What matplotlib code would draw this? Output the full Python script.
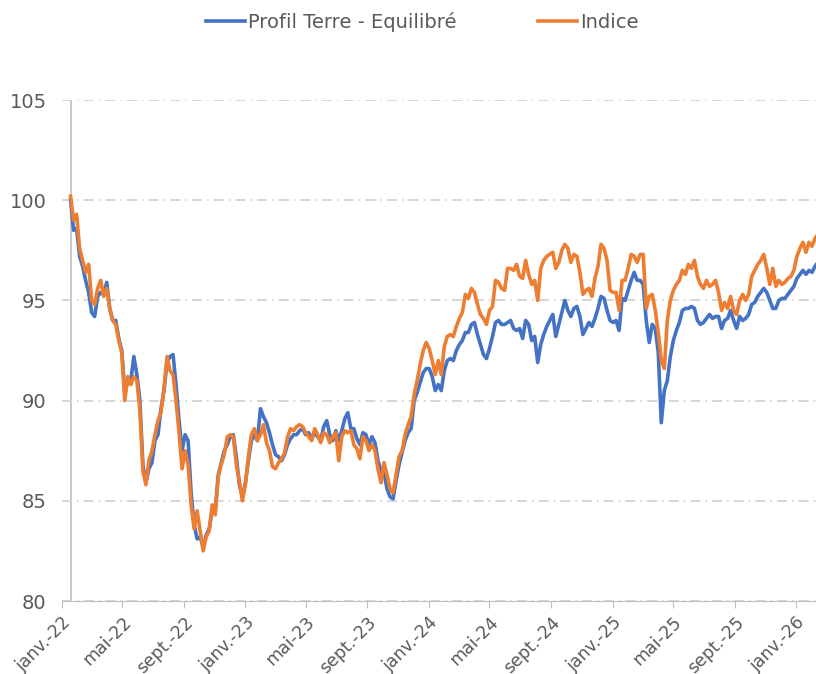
import pandas as pd
from matplotlib import pyplot as plt

# values read every 6 days starting 18/01/2022
profil = [100.0, 98.5, 98.6, 97.2, 96.7, 96.0, 95.4, 94.4, 94.2, 95.2,
          95.4, 95.3, 95.9, 94.6, 94.0, 94.0, 93.1, 92.5, 90.4, 91.0,
          91.0, 92.2, 91.3, 90.0, 86.8, 85.9, 86.6, 86.9, 88.0, 88.3,
          89.6, 90.5, 91.9, 92.2, 92.3, 90.8, 89.0, 87.5, 88.3, 88.0,
          85.4, 83.8, 83.1, 83.2, 82.7, 83.3, 83.6, 84.5, 84.5, 86.3,
          86.9, 87.5, 87.8, 88.2, 88.3, 87.2, 85.8, 85.2, 85.9, 87.0,
          88.0, 88.3, 88.0, 89.6, 89.2, 88.9, 88.4, 87.8, 87.3, 87.2,
          87.0, 87.3, 87.8, 88.1, 88.3, 88.3, 88.5, 88.6, 88.3, 88.4,
          88.1, 88.4, 88.2, 88.0, 88.7, 89.0, 88.3, 88.0, 88.5, 88.0,
          88.5, 89.1, 89.4, 88.6, 88.6, 88.1, 87.8, 88.4, 88.3, 87.8,
          88.2, 87.9, 87.0, 86.5, 86.4, 85.6, 85.2, 85.1, 86.0, 86.8,
          87.4, 88.0, 88.4, 88.6, 90.0, 90.4, 90.9, 91.4, 91.6, 91.6,
          91.2, 90.5, 90.8, 90.5, 91.5, 92.0, 92.1, 92.0, 92.5, 92.8,
          93.0, 93.4, 93.4, 93.8, 93.9, 93.3, 92.8, 92.3, 92.1, 92.6,
          93.2, 93.9, 94.0, 93.8, 93.8, 93.9, 94.0, 93.6, 93.5, 93.6,
          93.1, 94.0, 93.8, 93.0, 93.2, 91.9, 92.8, 93.3, 93.7, 94.0,
          94.3, 93.2, 93.8, 94.4, 95.0, 94.5, 94.2, 94.6, 94.7, 94.2,
          93.3, 93.6, 93.9, 93.7, 94.1, 94.6, 95.2, 95.1, 94.5, 94.0,
          93.9, 94.0, 93.5, 95.1, 95.0, 95.5, 96.0, 96.4, 96.0, 96.0,
          95.8, 94.0, 92.9, 93.8, 93.6, 92.4, 88.9, 90.5, 91.0, 92.2,
          93.0, 93.5, 93.9, 94.5, 94.6, 94.6, 94.7, 94.6, 94.0, 93.8,
          93.9, 94.1, 94.3, 94.1, 94.2, 94.2, 93.6, 94.0, 94.1, 94.5,
          94.0, 93.6, 94.2, 94.0, 94.1, 94.3, 94.8, 94.9, 95.2, 95.4,
          95.6, 95.4, 95.0, 94.6, 94.6, 95.0, 95.1, 95.1, 95.3, 95.5,
          95.7, 96.1, 96.3, 96.5, 96.3, 96.5, 96.4, 96.7, 96.9]

indice = [100.2, 99.0, 99.3, 97.6, 97.0, 96.4, 96.8, 95.0, 94.8, 95.6,
          96.0, 95.2, 95.6, 94.6, 94.0, 93.8, 93.0, 92.4, 90.0, 91.2,
          90.8, 91.2, 91.0, 89.5, 86.5, 85.8, 87.0, 87.5, 88.3, 89.0,
          89.4, 90.6, 92.2, 91.5, 91.3, 90.0, 88.4, 86.6, 87.5, 86.8,
          84.8, 83.6, 84.5, 83.5, 82.5, 83.2, 83.5, 84.8, 84.3, 86.2,
          86.8, 87.3, 88.2, 88.3, 88.2, 86.8, 86.0, 85.0, 85.8, 87.2,
          88.3, 88.6, 88.0, 88.3, 88.8, 87.9, 87.5, 86.7, 86.6, 86.9,
          87.1, 87.4, 88.2, 88.6, 88.5, 88.7, 88.8, 88.7, 88.4, 88.2,
          88.0, 88.6, 88.3, 87.9, 88.4, 88.3, 87.9, 88.2, 88.4, 87.0,
          88.2, 88.5, 88.4, 88.5, 87.8, 87.6, 87.1, 88.2, 88.0, 87.5,
          87.8, 87.5, 86.6, 85.9, 86.9, 86.3, 85.6, 85.4, 86.3, 87.2,
          87.5, 88.3, 88.8, 89.2, 90.3, 91.0, 91.8, 92.5, 92.9, 92.6,
          92.0, 91.3, 92.0, 91.3, 92.7, 93.2, 93.3, 93.2, 93.7, 94.1,
          94.4, 95.3, 95.1, 95.6, 95.4, 94.8, 94.3, 94.1, 93.8, 94.5,
          94.7, 96.0, 95.9, 95.6, 95.5, 96.6, 96.6, 96.5, 96.8, 96.2,
          96.1, 97.0, 96.3, 95.8, 96.0, 95.0, 96.6, 97.0, 97.2, 97.3,
          97.4, 96.6, 96.9, 97.5, 97.8, 97.6, 96.9, 97.3, 97.2, 96.4,
          95.3, 95.5, 95.6, 95.2, 96.1, 96.7, 97.8, 97.6, 97.0, 95.5,
          95.4, 95.4, 94.5, 96.0, 96.0, 96.6, 97.3, 97.2, 96.9, 97.3,
          97.3, 94.6, 95.2, 95.3, 94.5, 93.4, 92.0, 91.6, 94.0, 95.0,
          95.5, 95.8, 96.0, 96.5, 96.3, 96.8, 96.6, 97.0, 96.2, 95.8,
          95.6, 96.0, 95.7, 95.8, 96.0, 95.4, 94.5, 94.9, 94.6, 95.2,
          94.5, 94.3, 95.0, 95.3, 95.0, 95.3, 96.2, 96.5, 96.8, 97.0,
          97.3, 96.6, 95.8, 96.6, 95.7, 96.0, 95.8, 95.9, 96.1, 96.2,
          96.5, 97.2, 97.6, 97.9, 97.4, 97.9, 97.7, 98.1, 98.3]

dates = pd.date_range('2022-01-18', periods=len(indice), freq='6D')

tick_dates = pd.date_range('2022-01-01', '2026-01-01', freq='4MS')
tick_labels = ['janv.-22', 'mai-22', 'sept.-22',
               'janv.-23', 'mai-23', 'sept.-23',
               'janv.-24', 'mai-24', 'sept.-24',
               'janv.-25', 'mai-25', 'sept.-25',
               'janv.-26']

grey = '#595959'

fig = plt.figure(figsize=(8.16, 6.74), dpi=100)
ax = fig.add_axes([0.076, 0.1083, 0.924, 0.7433])

ax.plot(dates, profil, color='#4472C4', linewidth=2.6, label='Profil Terre - Equilibré')
ax.plot(dates, indice, color='#ED7D31', linewidth=2.6, label='Indice')

ax.set_ylim(80, 105)
ax.set_yticks([80, 85, 90, 95, 100, 105])
ax.set_xlim(pd.Timestamp('2022-01-01'), pd.Timestamp('2026-02-10'))
ax.set_xticks(tick_dates)
ax.set_xticklabels(tick_labels, rotation=45, ha='right', rotation_mode='anchor')

# grid and axis lines
ax.grid(axis='y', color='#d0d0d0', linestyle=(0, (6, 3, 1, 3)), linewidth=1.2)
ax.set_axisbelow(True)
for s in ['top', 'right', 'left']:
    ax.spines[s].set_visible(False)
ax.spines['bottom'].set_color('#bfbfbf')
ax.axvline(dates[0], color='#bfbfbf', linewidth=1.2, zorder=0)

ax.tick_params(axis='y', length=0, pad=11, labelsize=14, labelcolor=grey)
ax.tick_params(axis='x', length=5, color='#bfbfbf', pad=4, labelsize=12.5, labelcolor=grey)

fig.legend(loc='center', bbox_to_anchor=(422 / 816, 1 - 22 / 674), ncol=2, frameon=False,
           fontsize=14, labelcolor=grey, handlelength=2.0, handletextpad=0.15,
           columnspacing=4.2)

plt.savefig('out.png', dpi=100)
